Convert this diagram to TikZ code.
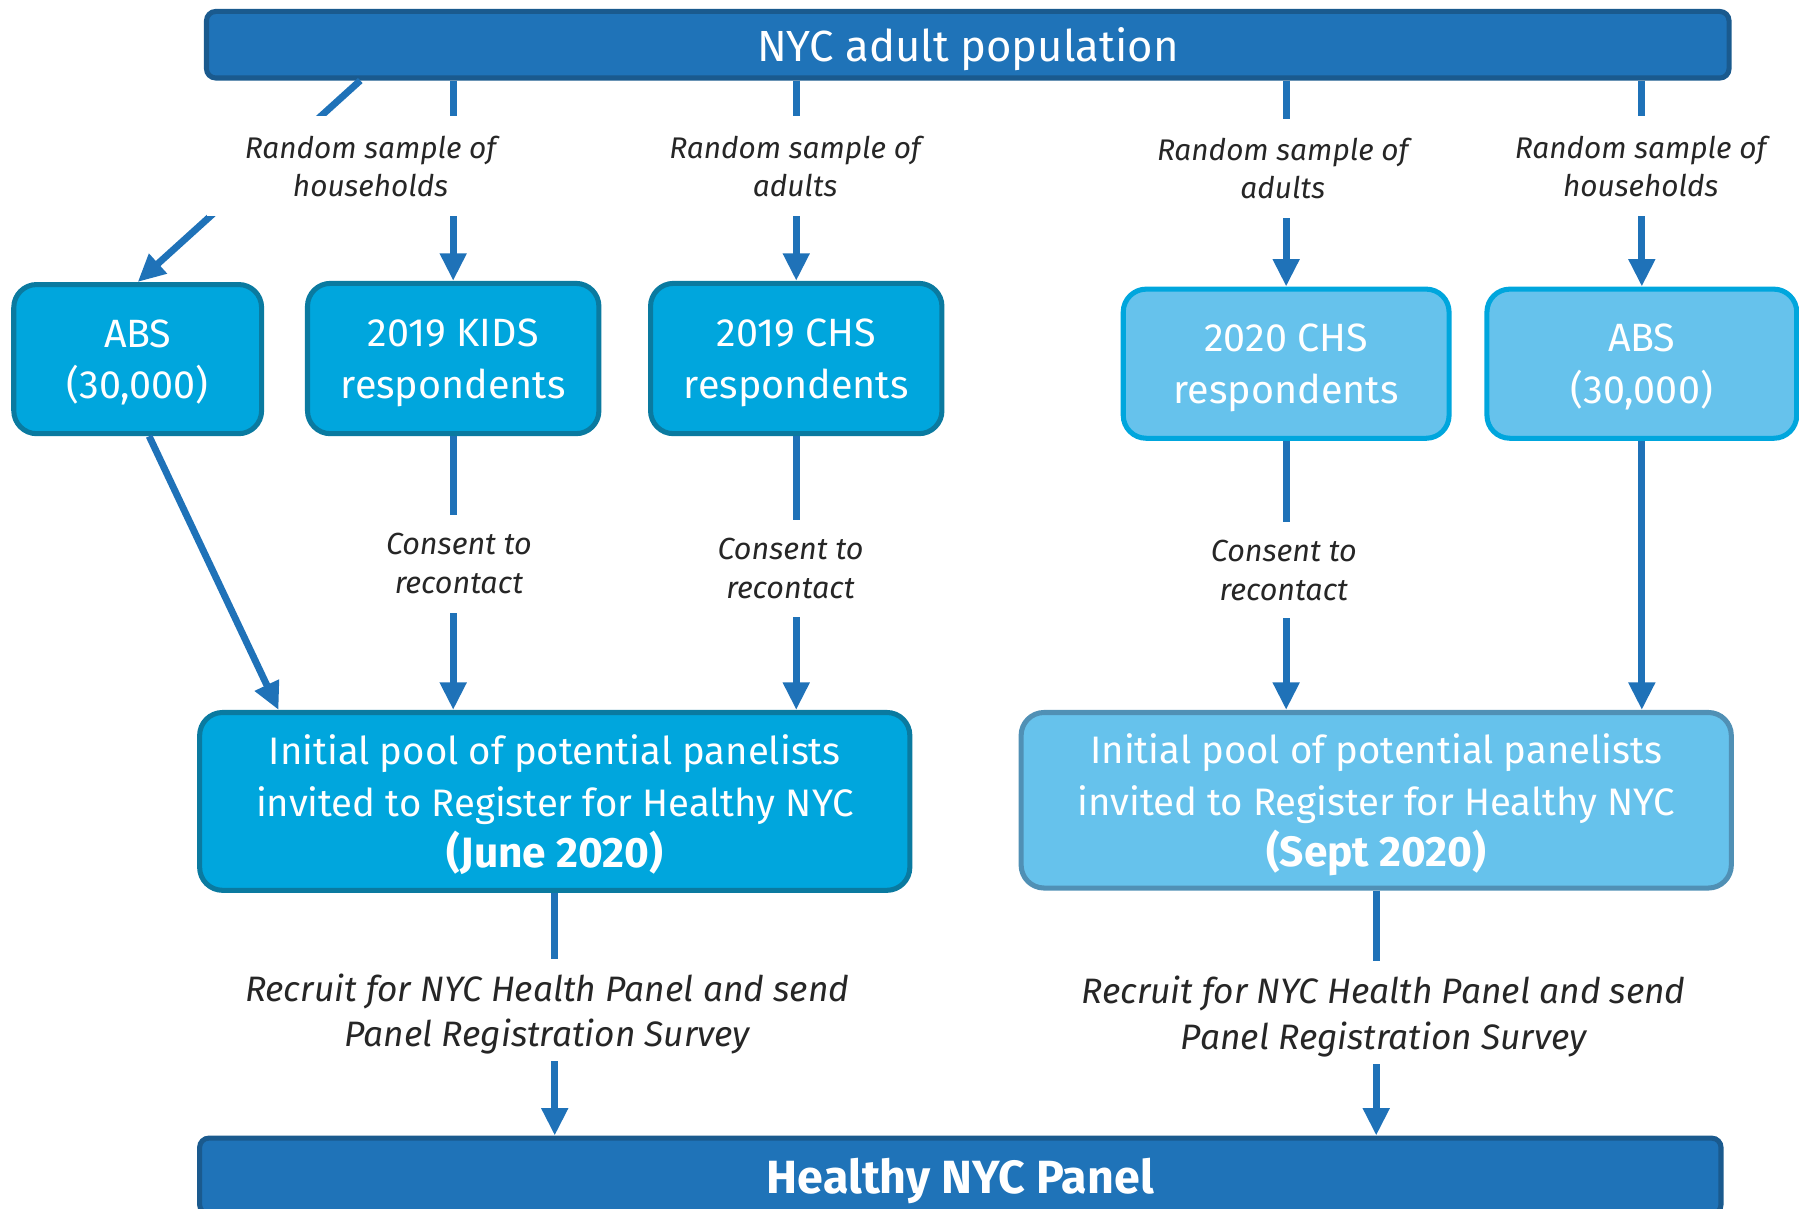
\documentclass[tikz,border=0pt]{standalone}
\usepackage{fontspec}
\setmainfont{Fira Sans}
\usetikzlibrary{arrows.meta,calc}
\definecolor{topfill}{HTML}{1F73B8}
\definecolor{topdraw}{HTML}{1A5A8E}
\definecolor{cyanfill}{HTML}{00A6DD}
\definecolor{cyandraw}{HTML}{0A7AA0}
\definecolor{lightfill}{HTML}{66C2EC}
\definecolor{lightdraw}{HTML}{00A6DD}
\definecolor{pooldraw}{HTML}{5090B5}
\definecolor{arrblue}{HTML}{1F72B8}
\definecolor{lblgray}{HTML}{262626}
\newcommand{\datetxt}[1]{{\fontsize{18.5}{22.5}\selectfont\bfseries #1}}
\begin{document}
\begin{tikzpicture}[x=0.5pt,y=-0.5pt,
  boxbase/.style={line width=2.2pt, rounded corners=10pt, text=white, align=center,
    inner sep=0pt, text depth=0pt, font=\fontsize{17.2}{22.5}\selectfont},
  darkbox/.style={boxbase, draw=cyandraw, fill=cyanfill},
  lightbox/.style={boxbase, draw=lightdraw, fill=lightfill},
  poolbox/.style={font=\fontsize{16.7}{22.5}\selectfont},
  bandbox/.style={boxbase, draw=topdraw, fill=topfill, rounded corners=4pt,
    font=\fontsize{19}{23}\selectfont},
  conn/.style={draw=arrblue, line width=3pt, -{Triangle[width=11pt,length=12pt]}},
  lbl/.style={fill=white, align=center, text=lblgray, inner sep=0pt,
    font=\itshape\fontsize{13}{16.5}\selectfont},
  conslbl/.style={lbl, font=\itshape\fontsize{13.3}{17}\selectfont},
  reclbl/.style={lbl, text depth=0pt, font=\itshape\fontsize{15.4}{20}\selectfont}
]
\useasboundingbox (0,0) rectangle (1568,1053);

% boxes
\node[bandbox, minimum width=663.5pt, minimum height=29pt] (top) at (843.5,39) {NYC adult population};
\node[bandbox, minimum width=663pt, minimum height=33pt, font=\bfseries\fontsize{20.3}{24}\selectfont] (bot) at (837,1025) {Healthy NYC Panel};

\node[darkbox, minimum width=108pt, minimum height=65pt] (absL) at (120,313) {ABS\\(30,000)};
\node[darkbox, minimum width=127pt, minimum height=65.5pt] (kids) at (395,312.5) {2019 KIDS\\respondents};
\node[darkbox, minimum width=127pt, minimum height=65.5pt] (chs19) at (694,312.5) {2019 CHS\\respondents};
\node[lightbox, minimum width=142pt, minimum height=65pt] (chs20) at (1121,317) {2020 CHS\\respondents};
\node[lightbox, minimum width=135pt, minimum height=65pt] (absR) at (1431,317) {ABS\\(30,000)};

\node[darkbox, poolbox, minimum width=309.5pt, minimum height=77.5pt] (poolL) at (483.5,698.5)
  {Initial pool of potential panelists\\invited to Register for Healthy NYC\\\datetxt{(June 2020)}};
\node[lightbox, poolbox, draw=pooldraw, minimum width=309.5pt, minimum height=76.5pt] (poolR) at (1199.5,697.5)
  {Initial pool of potential panelists\\invited to Register for Healthy NYC\\\datetxt{(Sept 2020)}};

% connectors
\coordinate (dstart) at (314,68);
\draw[conn] (top.south -| dstart) -- (absL.north);
\draw[conn] (top.south -| kids.north) -- (kids.north);
\draw[conn] (top.south -| chs19.north) -- (chs19.north);
\draw[conn] (top.south -| chs20.north) -- (chs20.north);
\draw[conn] (top.south -| absR.north) -- (absR.north);

\draw[conn] ([xshift=5pt]absL.south) -- ($(poolL.north west)+(71,0)$);
\draw[conn] (kids.south) -- (poolL.north -| kids.south);
\draw[conn] (chs19.south) -- (poolL.north -| chs19.south);
\draw[conn] (chs20.south) -- (poolR.north -| chs20.south);
\draw[conn] (absR.south) -- (poolR.north -| absR.south);

\draw[conn] (poolL.south) -- (bot.north -| poolL.south);
\draw[conn] (poolR.south) -- (bot.north -| poolR.south);

% labels (masking the connectors)
\node[lbl, minimum width=143pt, minimum height=43.5pt] (l1) at (323,145) {Random sample of\\households};
\node[lbl, minimum height=43.5pt] (l2) at (693,145) {Random sample of\\adults};
\node[lbl, minimum height=43pt] (l3) at (1118,147) {Random sample of\\adults};
\node[lbl, minimum height=43.5pt] (l4) at (1430,145) {Random sample of\\households};

\node[conslbl, minimum height=42.5pt] (c1) at (400,491.5) {Consent to\\recontact};
\node[conslbl, minimum height=42.5pt] (c2) at (689,495.5) {Consent to\\recontact};
\node[conslbl, minimum height=42pt] (c3) at (1119,497) {Consent to\\recontact};

\node[reclbl, minimum height=44.5pt] (r1) at (477,880.5) {Recruit for NYC Health Panel and send\\Panel Registration Survey};
\node[reclbl, minimum height=44.5pt] (r2) at (1206,882.5) {Recruit for NYC Health Panel and send\\Panel Registration Survey};
\end{tikzpicture}
\end{document}
